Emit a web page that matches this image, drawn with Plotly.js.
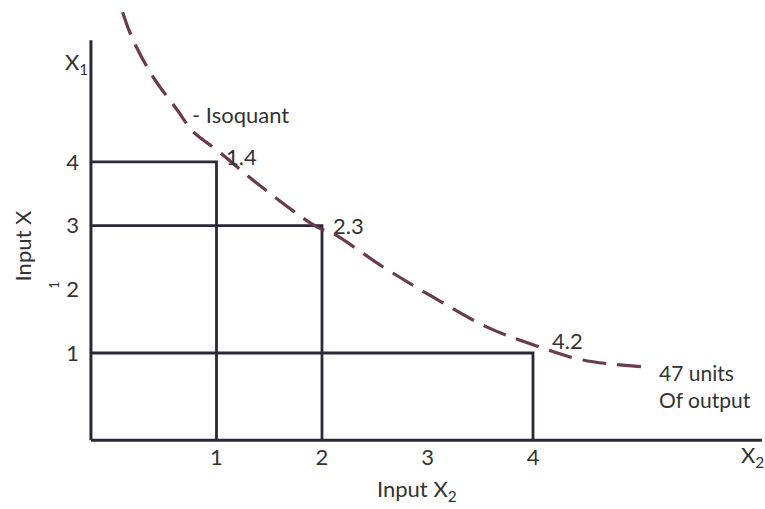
<!DOCTYPE html>
<html>
<head>
<meta charset="utf-8">
<script src="https://cdn.plot.ly/plotly-3.0.1.min.js"></script>
<style>html,body{margin:0;padding:0;background:#fff;}#chart{width:765px;height:509px;}</style>
</head>
<body>
<div id="chart"></div>
<script>
// Input combinations producing 47 units of output
var inputX2 = [1, 2, 4];
var inputX1 = [4, 3, 1];
var pointLabels = ["1.4", "2.3", "4.2"];

// Isoquant curve
var isoX2 = [0.11, 0.21, 0.40, 0.63, 0.78, 1.00, 1.38, 1.95, 2.10, 2.58, 3.05, 3.56, 4.00, 4.47, 5.08];
var isoX1 = [6.35, 5.91, 5.33, 4.81, 4.47, 4.19, 3.67, 2.98, 2.88, 2.35, 1.88, 1.41, 1.13, 0.89, 0.78];

var xTicks = [1, 2, 3, 4];
var yTicks = [1, 2, 3, 4];

// axis extents
var xMin = -0.19, xMax = 6.17;
var yMin = -0.37, yMax = 5.91;

var W = 765, H = 509;
var xr = [-1.052, 6.199];
var yr = [-1.449, 6.541];
function px(x){ return (x - xr[0]) / (xr[1]-xr[0]); }
function py(y){ return (y - yr[0]) / (yr[1]-yr[0]); }

var ink = '#2c283a';
var txt = '#333333';
var fnt = 'Lato, "Open Sans", sans-serif';
var fs = 22;

var traces = [];
// axes lines
traces.push({x:[xMin, xMax], y:[yMin, yMin], mode:'lines', line:{color:ink, width:3}, hoverinfo:'skip'});
traces.push({x:[xMin, xMin], y:[yMin, yMax], mode:'lines', line:{color:ink, width:3}, hoverinfo:'skip'});
// rectangles
for (var i=0;i<inputX2.length;i++){
  traces.push({x:[xMin, inputX2[i], inputX2[i]], y:[inputX1[i], inputX1[i], yMin],
    mode:'lines', line:{color:ink, width:2.8}, hoverinfo:'skip'});
}
// isoquant
traces.push({x:isoX2, y:isoX1, mode:'lines', line:{color:'#6a3a4e', width:3.2, dash:'24px,11px', shape:'spline'}, hoverinfo:'skip'});

var ann = [];
var offs = [[0.24,0.08],[0.25,0.0],[0.33,0.2]];
for (var i=0;i<inputX2.length;i++){
  ann.push({x:inputX2[i]+offs[i][0], y:inputX1[i]+offs[i][1], xref:'x', yref:'y', text:pointLabels[i], showarrow:false,
    font:{family:fnt, size:fs, color:txt}});
}
ann.push({x:0.75, y:4.75, xref:'x', yref:'y', text:'- Isoquant', showarrow:false, xanchor:'left', font:{family:fnt, size:fs, color:txt}});
ann.push({x:5.18, y:0.69, xref:'x', yref:'y', text:'47 units', showarrow:false, xanchor:'left', font:{family:fnt, size:21, color:txt}});
ann.push({x:5.18, y:0.27, xref:'x', yref:'y', text:'Of output', showarrow:false, xanchor:'left', font:{family:fnt, size:21, color:txt}});
ann.push({x:-0.33, y:5.55, xref:'x', yref:'y', text:'X<sub>1</sub>', showarrow:false, font:{family:fnt, size:fs, color:txt}});
ann.push({x:6.08, y:-0.62, xref:'x', yref:'y', text:'X<sub>2</sub>', showarrow:false, font:{family:fnt, size:fs, color:txt}});
ann.push({x:2.9, y:-1.15, xref:'x', yref:'y', text:'Input X<sub>2</sub>', showarrow:false, font:{family:fnt, size:fs, color:txt}});
ann.push({x:-0.83, y:2.68, xref:'x', yref:'y', text:'Input X', textangle:-90, showarrow:false, font:{family:fnt, size:fs, color:txt}});
ann.push({x:-0.54, y:2.07, xref:'x', yref:'y', text:'1', textangle:-90, showarrow:false, font:{family:fnt, size:13, color:txt}});

var layout = {
  width: W, height: H,
  margin:{l:0,r:0,t:0,b:0},
  paper_bgcolor:'#fff', plot_bgcolor:'#fff',
  showlegend:false,
  xaxis:{range:xr, showgrid:false, zeroline:false, showline:false, tickvals:xTicks, ticktext:xTicks.map(String),
    anchor:'free', position:py(yMin), ticks:'', ticklabelstandoff:2,
    tickfont:{family:fnt, size:fs, color:txt}},
  yaxis:{range:yr, showgrid:false, zeroline:false, showline:false, tickvals:yTicks, ticktext:yTicks.map(String),
    anchor:'free', position:px(xMin), ticks:'', ticklabelstandoff:12,
    tickfont:{family:fnt, size:fs, color:txt}},
  annotations: ann
};
Plotly.newPlot('chart', traces, layout, {staticPlot:true, displayModeBar:false});
</script>
</body>
</html>
